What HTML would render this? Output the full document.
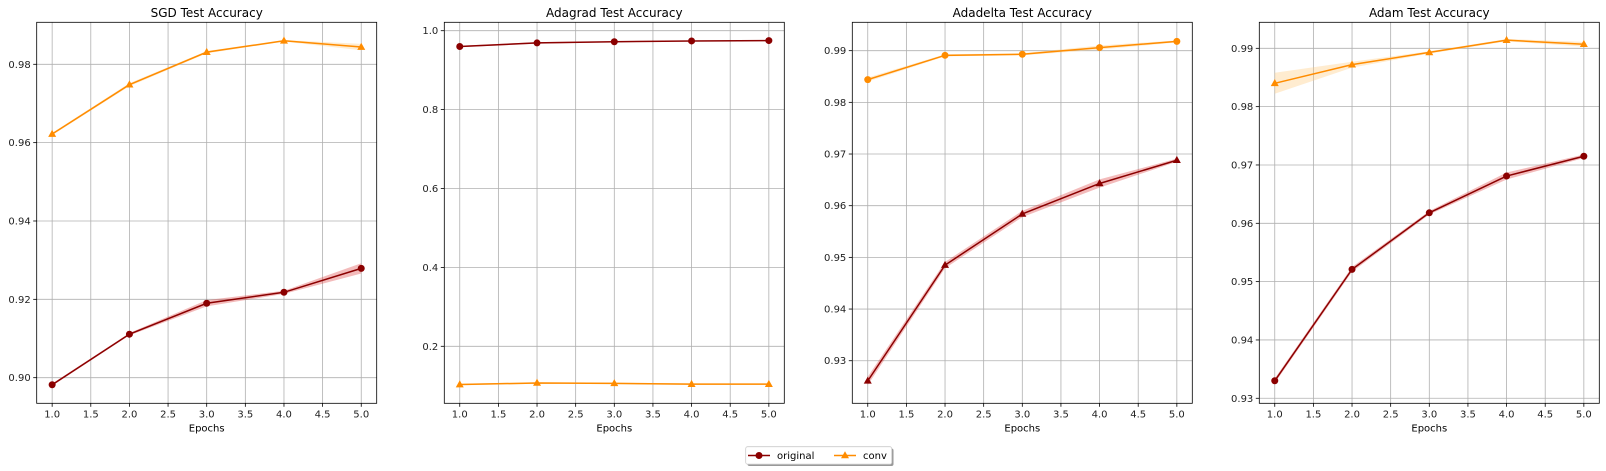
<!DOCTYPE html>
<html><head><meta charset="utf-8"><style>
body{margin:0;background:#fff;}
svg{display:block;font-family:"DejaVu Sans","Liberation Sans",sans-serif;}
</style></head><body>
<svg id="fig" width="1606" height="471" viewBox="0 0 1606 471" xmlns="http://www.w3.org/2000/svg"></svg>
<script>
const epochs=[1,2,3,4,5];
const xTicks=[1.0,1.5,2.0,2.5,3.0,3.5,4.0,4.5,5.0];
const titles=["SGD Test Accuracy","Adagrad Test Accuracy","Adadelta Test Accuracy","Adam Test Accuracy"];
const origVals=[[0.8982,0.9111,0.9190,0.9218,0.9279],[0.960,0.969,0.972,0.974,0.975],[0.9261,0.9485,0.9584,0.9643,0.9688],[0.9330,0.9521,0.9618,0.9681,0.9715]];
const origStd=[[0.0003,0.0003,0.0008,0.0004,0.0013],[0.002,0.002,0.001,0.001,0.001],[0.0008,0.0006,0.0006,0.0008,0.0003],[0.0004,0.0004,0.0003,0.0006,0.0003]];
const convVals=[[0.9622,0.9748,0.9831,0.9860,0.9844],[0.103,0.107,0.106,0.104,0.104],[0.9844,0.9891,0.9893,0.9906,0.9918],[0.9840,0.9872,0.9893,0.9914,0.9907]];
const convStd=[[0.0003,0.0004,0.0003,0.0002,0.0008],[0.002,0.002,0.002,0.002,0.002],[0.0004,0.0002,0.0002,0.0004,0.0002],[0.0018,0.0005,0.0002,0.0002,0.0004]];
const yTicks=[[0.90,0.92,0.94,0.96,0.98],[0.2,0.4,0.6,0.8,1.0],[0.93,0.94,0.95,0.96,0.97,0.98,0.99],[0.93,0.94,0.95,0.96,0.97,0.98,0.99]];
const yDigits=[2,1,2,2];
const yMin=[0.89346,0.0555,0.92176,0.92914];
const yMax=[0.99072,1.0213,0.99549,0.99446];
const origMarker=["circle","circle","tri","circle"];
const convMarker=["tri","tri","circle","tri"];

const NS="http://www.w3.org/2000/svg";
const fig=document.getElementById('fig');
function mk(tag,attrs,parent){const e=document.createElementNS(NS,tag);for(const k in attrs)e.setAttribute(k,attrs[k]);(parent||fig).appendChild(e);return e;}
const lefts=[36.7,444.3,852.3,1259.3];
const W=340,TOP=22.3,BOT=403.3;
const RED="#8b0000",ORG="#ff8c00";
function marker(g,type,x,y,c){
  if(type==="circle") return mk('circle',{cx:x,cy:y,r:3.5,fill:c},g);
  return mk('polygon',{points:`${x},${y-4.3} ${x+4},${y+2.8} ${x-4},${y+2.8}`,fill:c},g);
}
for(let p=0;p<4;p++){
  const L=lefts[p];
  const xs=v=>L+(v-0.8)/4.4*W;
  const ys=v=>BOT-(v-yMin[p])/(yMax[p]-yMin[p])*(BOT-TOP);
  const g=mk('g',{});
  
  
  const t=mk('text',{x:L+W/2,y:17,'text-anchor':'middle','font-size':12,fill:'#000'},g);
  t.textContent=titles[p];
  
  
  for(const v of xTicks){
    const x=xs(v);
    mk('line',{x1:x,x2:x,y1:TOP,y2:BOT,stroke:'#b0b0b0','stroke-width':0.8},g);
    mk('line',{x1:x,x2:x,y1:BOT,y2:BOT+3.5,stroke:'#000','stroke-width':0.8},g);
    const tl=mk('text',{x:x,y:BOT+14,'text-anchor':'middle','font-size':10,fill:'#222'},g);
    tl.textContent=v.toFixed(1);
    
    
  }
  for(const v of yTicks[p]){
    const y=ys(v);
    mk('line',{x1:L,x2:L+W,y1:y,y2:y,stroke:'#b0b0b0','stroke-width':0.8},g);
    mk('line',{x1:L-3.5,x2:L,y1:y,y2:y,stroke:'#000','stroke-width':0.8},g);
    const tl=mk('text',{x:L-6,y:y+3.5,'text-anchor':'end','font-size':10,fill:'#222'},g);
    tl.textContent=v.toFixed(yDigits[p]);
    
    
  }
  const xl=mk('text',{x:L+W/2,y:BOT+28,'text-anchor':'middle','font-size':10,fill:'#000'},g);
  xl.textContent="Epochs";
  
  
  const series=[[origVals[p],origStd[p],RED,'rgba(220,60,60,0.35)',origMarker[p],'original'],[convVals[p],convStd[p],ORG,'rgba(255,200,120,0.35)',convMarker[p],'conv']];
  for(const [vals,sd,c,fc,mt,nm] of series){
    let up=epochs.map((e,i)=>`${xs(e)},${ys(vals[i]+sd[i])}`);
    let dn=epochs.map((e,i)=>`${xs(e)},${ys(vals[i]-sd[i])}`).reverse();
    const band=mk('polygon',{points:up.concat(dn).join(' '),fill:fc},g);
    
    
    const ln=mk('polyline',{points:epochs.map((e,i)=>`${xs(e)},${ys(vals[i])}`).join(' '),fill:'none',stroke:c,'stroke-width':1.5},g);
    
    
    epochs.forEach((e,i)=>{
      const m=marker(g,mt,xs(e),ys(vals[i]),c);
      
      
    });
  }
  mk('rect',{x:L,y:TOP,width:W,height:BOT-TOP,fill:'none',stroke:'#000','stroke-width':0.8},g);
}
// legend
const lg=mk('g',{});


mk('rect',{x:747.5,y:448.5,width:146,height:17.5,rx:2,fill:'#999'},lg);
mk('rect',{x:745.7,y:446.7,width:146,height:17.5,rx:2,fill:'#fff',stroke:'#ccc','stroke-width':0.8},lg);
mk('line',{x1:748,x2:770,y1:455.5,y2:455.5,stroke:RED,'stroke-width':1.5},lg);
marker(lg,'circle',759,455.5,RED);
const l1=mk('text',{x:777,y:459,'font-size':10,fill:'#000'},lg);l1.textContent="original";


mk('line',{x1:834,x2:856,y1:455.5,y2:455.5,stroke:ORG,'stroke-width':1.5},lg);
marker(lg,'tri',845,455.5,ORG);
const l2=mk('text',{x:863,y:459,'font-size':10,fill:'#000'},lg);l2.textContent="conv";


</script>
</body></html>
